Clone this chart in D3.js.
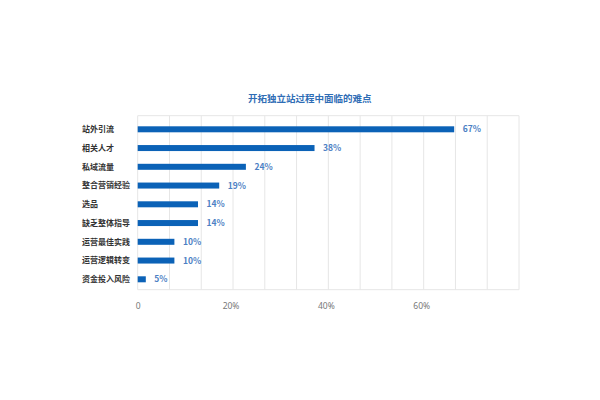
<!DOCTYPE html>
<html>
<head>
<meta charset="utf-8">
<script src="https://cdn.jsdelivr.net/npm/d3@7"></script>
<style>
  body { margin: 0; background: #fff; }
  svg { display: block; font-family: "Noto Sans CJK SC", "Noto Sans", sans-serif; }
</style>
</head>
<body>
<div id="chart"></div>
<script>
// categories, top to bottom
const categories = ["站外引流", "相关人才", "私域流量", "整合营销经验", "选品", "缺乏整体指导", "运营最佳实践", "运营逻辑转变", "资金投入风险"];
// bar lengths (%)
const shares = [66.4, 37.1, 22.7, 17.1, 12.65, 12.65, 7.7, 7.7, 1.7];
// data labels as printed
const shareLabels = ["67%", "38%", "24%", "19%", "14%", "14%", "10%", "10%", "5%"];
const tickValues = [0, 20, 40, 60];
const tickLabels = ["0", "20%", "40%", "60%"];
const title = "开拓独立站过程中面临的难点";

const width = 600, height = 400;
const plot = { left: 137.7, right: 519, top: 115.7, bottom: 289.7 };

const svg = d3.select("#chart").append("svg")
  .attr("width", width)
  .attr("height", height);

const x = d3.scaleLinear().domain([0, 80]).range([plot.left, plot.right]);
// bands sit slightly low inside the box
const y = d3.scaleBand().domain(categories).range([plot.top + 1.6, plot.bottom + 1.6])
  .paddingInner(0.68).paddingOuter(0.48);

// grid lines (12 divisions)
const gridVals = d3.range(0, 80.01, 80 / 12);
svg.append("g").selectAll("line").data(gridVals).join("line")
  .attr("x1", d => x(d)).attr("x2", d => x(d))
  .attr("y1", plot.top).attr("y2", plot.bottom)
  .attr("stroke", "#e6e6e6").attr("stroke-width", 1);

svg.append("line")
  .attr("x1", plot.left).attr("x2", plot.right)
  .attr("y1", plot.top).attr("y2", plot.top)
  .attr("stroke", "#e6e6e6");
svg.append("line")
  .attr("x1", plot.left).attr("x2", plot.right)
  .attr("y1", plot.bottom).attr("y2", plot.bottom)
  .attr("stroke", "#e6e6e6");

// title
svg.append("text")
  .attr("x", 309.7)
  .attr("y", 98.3)
  .attr("dy", "0.35em")
  .attr("text-anchor", "middle")
  .style("font-size", "9.5px")
  .style("font-weight", "700")
  .style("fill", "#2f6db5")
  .text(title);

// bars
svg.append("g").selectAll("rect").data(shares).join("rect")
  .attr("x", x(0))
  .attr("y", (d, i) => y(categories[i]))
  .attr("width", d => x(d) - x(0))
  .attr("height", y.bandwidth())
  .attr("fill", "#0b62b7");

// value labels
svg.append("g").selectAll("text").data(shares).join("text")
  .attr("x", d => x(d) + 8.5)
  .attr("y", (d, i) => y(categories[i]) + y.bandwidth() / 2)
  .attr("dy", "0.35em")
  .style("font-size", "8.5px")
  .style("font-weight", "700")
  .style("fill", "#4d7fc4")
  .text((d, i) => shareLabels[i]);

// category labels
svg.append("g").selectAll("text").data(categories).join("text")
  .attr("x", 82)
  .attr("y", d => y(d) + y.bandwidth() / 2)
  .attr("dy", "0.35em")
  .style("font-size", "8px")
  .style("font-weight", "700")
  .style("fill", "#333")
  .text(d => d);

// x tick labels
const xAxis = d3.axisBottom(x).tickValues(tickValues)
  .tickFormat((d, i) => tickLabels[i]).tickSize(0).tickPadding(0);
const xg = svg.append("g").attr("transform", `translate(0,${plot.bottom})`).call(xAxis);
xg.select(".domain").remove();
xg.selectAll("text")
  .attr("y", 13.5)
  .attr("dx", d => d === 0 ? 0 : -2.5)
  .style("font-family", "\"Noto Sans\", sans-serif")
  .style("font-size", "8.5px")
  .style("fill", "#777");
</script>
</body>
</html>
